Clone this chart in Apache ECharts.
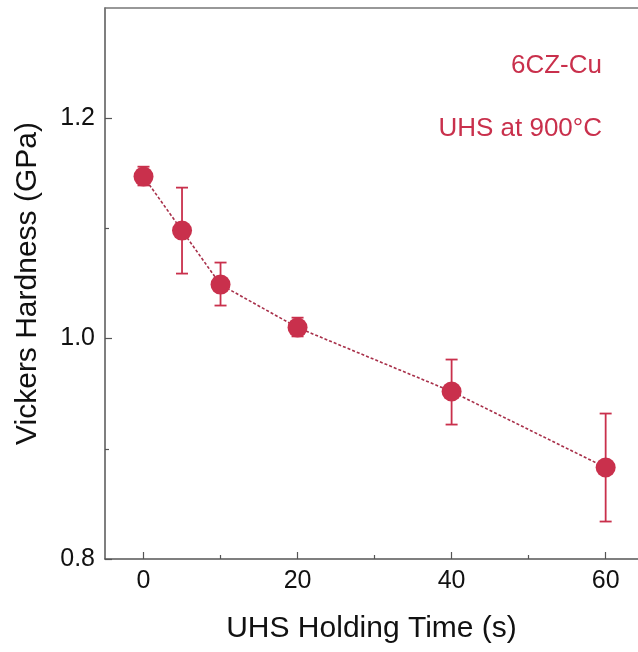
<!DOCTYPE html>
<html><head><meta charset="utf-8">
<script src="https://cdn.jsdelivr.net/npm/echarts@6/dist/echarts.min.js"></script>
<style>html,body{margin:0;padding:0;background:#fff}#c{width:638px;height:652px}</style>
</head><body><div id="c"></div>
<script>
var times = [0, 5, 10, 20, 40, 60];
var hardness = [1.147, 1.098, 1.049, 1.010, 0.952, 0.883];
var errLow = [1.139, 1.059, 1.030, 1.002, 0.922, 0.834];
var errHigh = [1.156, 1.137, 1.069, 1.019, 0.981, 0.932];
var xTicks = [0, 20, 40, 60];
var xMinorTicks = [10, 30, 50];
var yTicks = [0.8, 1.0, 1.2];
var yMinorTicks = [0.9, 1.1];
var annot1 = '6CZ-Cu';
var annot2 = 'UHS at 900°C';

var red = '#c9304c';
var font = 'Liberation Sans, Arial, sans-serif';
var axisColor = '#555';
var chart = echarts.init(document.getElementById('c'));
var pts = times.map(function(t,i){return [t, hardness[i]];});
var errs = times.map(function(t,i){return [t, errLow[i], errHigh[i]];});
var XMIN = -5, XMAX = 64.2, YMIN = 0.8, YMAX = 1.3;
chart.setOption({
  animation:false,
  grid:{left:105, right:0, top:8, bottom:93},
  xAxis:[{
    type:'value', min:XMIN, max:XMAX,
    axisLine:{show:true, onZero:false, lineStyle:{color:axisColor, width:1.5}},
    axisTick:{show:true, inside:true, length:7, customValues:xTicks, lineStyle:{color:axisColor, width:1.2}},
    splitLine:{show:false},
    axisLabel:{fontFamily:font, fontSize:25, color:'#111', margin:10, customValues:xTicks,
      formatter:function(v){return String(v);}},
    name:'UHS Holding Time (s)', nameLocation:'middle', nameGap:55,
    nameTextStyle:{fontFamily:font, fontSize:30, color:'#111'}
  },{
    type:'value', position:'bottom', min:XMIN, max:XMAX,
    axisLine:{show:false, onZero:false},
    axisTick:{show:true, inside:true, length:4, customValues:xMinorTicks, lineStyle:{color:axisColor, width:1.2}},
    axisLabel:{show:false}, splitLine:{show:false}
  },{
    type:'value', position:'top', min:XMIN, max:XMAX,
    axisLine:{show:true, onZero:false, lineStyle:{color:'#777', width:1.5}},
    axisTick:{show:false}, axisLabel:{show:false}, splitLine:{show:false}
  }],
  yAxis:[{
    type:'value', min:YMIN, max:YMAX,
    axisLine:{show:true, onZero:false, lineStyle:{color:axisColor, width:1.5}},
    axisTick:{show:true, inside:true, length:7, customValues:yTicks, lineStyle:{color:axisColor, width:1.2}},
    splitLine:{show:false},
    axisLabel:{fontFamily:font, fontSize:25, color:'#111', margin:10, customValues:yTicks,
      formatter:function(v){return (Math.round(v*10)/10).toFixed(1);}},
    name:'Vickers Hardness (GPa)', nameLocation:'middle', nameGap:62,
    nameTextStyle:{fontFamily:font, fontSize:30, color:'#111'}
  },{
    type:'value', position:'left', min:YMIN, max:YMAX,
    axisLine:{show:false, onZero:false},
    axisTick:{show:true, inside:true, length:4, customValues:yMinorTicks, lineStyle:{color:axisColor, width:1.2}},
    axisLabel:{show:false}, splitLine:{show:false}
  }],
  series:[{
    type:'custom',
    data:errs,
    z:2,
    renderItem:function(params, api){
      var x = api.value(0);
      var lo = api.coord([x, api.value(1)]);
      var hi = api.coord([x, api.value(2)]);
      var w = 6;
      var st = {stroke:red, lineWidth:1.8};
      return {type:'group', children:[
        {type:'line', shape:{x1:lo[0], y1:lo[1], x2:hi[0], y2:hi[1]}, style:st},
        {type:'line', shape:{x1:lo[0]-w, y1:lo[1], x2:lo[0]+w, y2:lo[1]}, style:st},
        {type:'line', shape:{x1:hi[0]-w, y1:hi[1], x2:hi[0]+w, y2:hi[1]}, style:st}
      ]};
    }
  },{
    type:'line',
    data:pts,
    z:3,
    symbol:'circle', symbolSize:20,
    itemStyle:{color:red},
    lineStyle:{color:'#a8304a', width:1.6, type:[3,2]}
  }],
  graphic:[
    {type:'text', x:602, y:66, style:{text:annot1, font:'26px Liberation Sans, Arial, sans-serif', fill:red, textAlign:'right', textVerticalAlign:'middle'}},
    {type:'text', x:602, y:129, style:{text:annot2, font:'26px Liberation Sans, Arial, sans-serif', fill:red, textAlign:'right', textVerticalAlign:'middle'}}
  ]
});
</script></body></html>
